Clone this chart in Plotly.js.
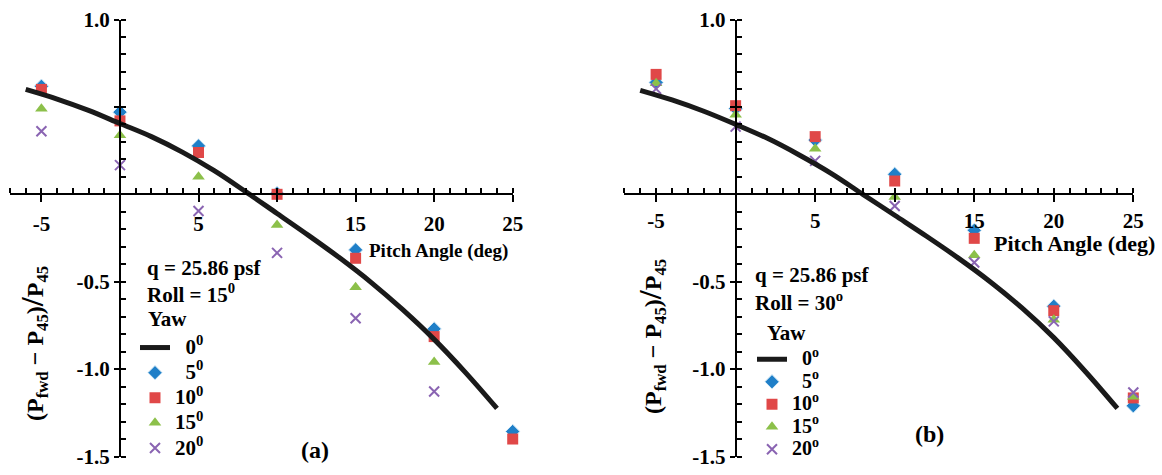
<!DOCTYPE html>
<html>
<head>
<meta charset="utf-8">
<script src="https://cdn.plot.ly/plotly-3.0.1.min.js"></script>
<style>html,body{margin:0;padding:0;background:#fff;}#chart{width:1162px;height:475px;}</style>
</head>
<body>
<div id="chart"></div>
<script>
// ---- data ----
const pitch = [-5, 0, 5, 10, 15, 20, 25];
const curveX = [-6, -4, -2, 0, 2, 4, 6, 8, 10, 12, 14, 16, 18, 20, 22, 24];

// (a) Roll = 15 deg
const a_yaw0 = [0.60, 0.545, 0.48, 0.405, 0.33, 0.24, 0.135, 0.015, -0.11, -0.235, -0.365, -0.505, -0.66, -0.83, -1.02, -1.225];
const a_yaw5 = [0.618, 0.47, 0.277, 0.005, -0.318, -0.77, -1.357];
const a_yaw10 = [0.60, 0.42, 0.239, 0.0, -0.366, -0.814, -1.40];
const a_yaw15 = [0.49, 0.338, 0.10, -0.176, -0.532, -0.96, -1.53];
const a_yaw20 = [0.361, 0.167, -0.096, -0.335, -0.709, -1.128, -1.57];

// (b) Roll = 30 deg
const b_yaw0 = [0.595, 0.54, 0.475, 0.40, 0.32, 0.225, 0.12, 0.0, -0.12, -0.24, -0.365, -0.50, -0.65, -0.82, -1.015, -1.225];
const b_yaw5 = [0.64, 0.49, 0.31, 0.115, -0.206, -0.64, -1.21];
const b_yaw10 = [0.686, 0.507, 0.33, 0.076, -0.252, -0.666, -1.165];
const b_yaw15 = [0.636, 0.455, 0.26, -0.016, -0.348, -0.717, -1.158];
const b_yaw20 = [0.603, 0.387, 0.191, -0.067, -0.39, -0.727, -1.134];

const xTickVals = [-5, 0, 5, 10, 15, 20, 25];
const xTickText = ['-5', '', '5', '', '15', '20', '25'];
const yTickVals = [1.0, 0.5, 0, -0.5, -1.0, -1.5];
const yTickText = ['1.0', '', '', '-0.5', '-1.0', '-1.5'];
const yawA = ['\u00a0\u00a00<sup>0</sup>', '\u00a0\u00a05<sup>0</sup>', '10<sup>0</sup>', '15<sup>0</sup>', '20<sup>0</sup>'];
const yawB = ['\u00a0\u00a00<sup>o</sup>', '\u00a0\u00a05<sup>o</sup>', '10<sup>o</sup>', '15<sup>o</sup>', '20<sup>o</sup>'];

// ---- styling / layout ----
const W = 1162, H = 475;
const FONT = 'Liberation Serif, Times New Roman, serif';
const px = v => v / W;
const py = v => 1 - v / H;
const xRange = [-7, 25], yRange = [-1.5, 1.0];
const xdA = [px(10), px(512.7)], xdB = [px(624.3), px(1133.3)];
const yd = [py(456.5), py(19.5)];
const yZeroPos = yd[0] + (0 - yRange[0]) / (yRange[1] - yRange[0]) * (yd[1] - yd[0]);
const xZeroPos = d => d[0] + (0 - xRange[0]) / (xRange[1] - xRange[0]) * (d[1] - d[0]);

const colors = {blue: '#1f7fc8', red: '#e04848', green: '#8cc04a', purple: '#8a64b2', line: '#1a1a1a'};
const big = (t, s) => '<span style="font-size:' + s + 'px">' + t + '</span>';

function makeTraces(curve, y5, y10, y15, y20, labels, xa, ya, leg, ls) {
  const common = {x: pitch, mode: 'markers', xaxis: xa, yaxis: ya, legend: leg, cliponaxis: false};
  return [
    Object.assign({}, common, {y: y5, name: big(labels[1], ls), marker: {symbol: 'diamond', size: 11, color: colors.blue, line: {color: '#d8ecf8', width: 1}}}),
    Object.assign({}, common, {y: y10, name: big(labels[2], ls), marker: {symbol: 'square', size: 11, color: colors.red}}),
    Object.assign({}, common, {y: y15, name: big(labels[3], ls), marker: {symbol: 'triangle-up', size: 11, color: colors.green}}),
    Object.assign({}, common, {y: y20, name: big(labels[4], ls), marker: {symbol: 'x-thin', size: 10, color: colors.purple, line: {color: colors.purple, width: 2}}}),
    {x: curveX, y: curve, mode: 'lines', name: big(labels[0], ls), xaxis: xa, yaxis: ya, legend: leg, legendrank: 1,
     line: {color: colors.line, width: 5, shape: 'spline', smoothing: 1}, cliponaxis: false}
  ];
}

const data = [].concat(
  makeTraces(a_yaw0, a_yaw5, a_yaw10, a_yaw15, a_yaw20, yawA, 'x', 'y', 'legend', 21),
  makeTraces(b_yaw0, b_yaw5, b_yaw10, b_yaw15, b_yaw20, yawB, 'x2', 'y2', 'legend2', 20)
);

const tickFont = {family: FONT, size: 21, weight: 'bold', color: '#000'};
function xAxis(dom, standoff) {
  return {domain: dom, range: xRange, anchor: 'free', position: yZeroPos,
    showline: true, linecolor: '#000', linewidth: 2, showgrid: false, zeroline: false,
    tickmode: 'array', tickvals: xTickVals, ticktext: xTickText,
    ticks: 'outside', ticklen: 7, tickwidth: 2, tickcolor: '#000', ticklabelstandoff: standoff,
    minor: {tickmode: 'linear', tick0: 0, dtick: 1, ticks: 'inside', ticklen: 5, tickwidth: 2, tickcolor: '#000', showgrid: false},
    tickfont: tickFont, fixedrange: true};
}
function yAxis(pos) {
  return {domain: yd, range: yRange, anchor: 'free', position: pos,
    showline: true, linecolor: '#000', linewidth: 2, showgrid: false, zeroline: false,
    tickmode: 'array', tickvals: yTickVals, ticktext: yTickText,
    ticks: 'outside', ticklen: 5, tickwidth: 2, tickcolor: '#000',
    minor: {tickmode: 'linear', tick0: 0, dtick: 0.1, ticks: 'inside', ticklen: 5, tickwidth: 2, tickcolor: '#000', showgrid: false},
    tickfont: tickFont, fixedrange: true};
}

const annFont = s => ({family: FONT, size: s, weight: 'bold', color: '#000'});
function ann(text, x, y, size, xanchor, extra) {
  return Object.assign({text: text, xref: 'paper', yref: 'paper', x: px(x), y: py(y), xanchor: xanchor || 'left', yanchor: 'middle',
    showarrow: false, font: annFont(size)}, extra || {});
}
const yTitle = '(P<sub>fwd</sub> \u2212 P<sub>45</sub>)<span style="font-size:32px">/</span>P<sub>45</sub>';

const layout = {
  width: W, height: H, margin: {l: 0, r: 0, t: 0, b: 0, autoexpand: false},
  paper_bgcolor: '#fff', plot_bgcolor: 'rgba(0,0,0,0)',
  showlegend: true,
  xaxis: xAxis(xdA, 3), yaxis: yAxis(xZeroPos(xdA)),
  xaxis2: xAxis(xdB, 0), yaxis2: yAxis(xZeroPos(xdB)),
  legend: {x: px(135), y: py(330), xanchor: 'left', yanchor: 'top', bgcolor: 'rgba(0,0,0,0)',
    font: annFont(17), tracegroupgap: 0, itemwidth: 30},
  legend2: {x: px(752), y: py(343), xanchor: 'left', yanchor: 'top', bgcolor: 'rgba(0,0,0,0)',
    font: annFont(15), tracegroupgap: 0, itemwidth: 30},
  annotations: [
    ann('q = 25.86 psf', 145, 268, 21),
    ann('Roll = 15<sup>0</sup>', 145, 293, 21),
    ann('Yaw', 146, 319, 21),
    ann('Pitch Angle (deg)', 438, 251, 19, 'center'),
    ann('(a)', 315, 450, 24, 'center'),
    ann(yTitle, 33, 344, 24, 'center', {textangle: -90}),
    ann('q = 25.86 psf', 753, 275, 21),
    ann('Roll = 30<sup>o</sup>', 753, 301, 21),
    ann('Yaw', 765, 333, 21),
    ann('Pitch Angle (deg)', 1074, 244, 22, 'center'),
    ann('(b)', 929, 434, 24, 'center'),
    ann(yTitle, 651, 337, 24, 'center', {textangle: -90})
  ]
};

Plotly.newPlot('chart', data, layout, {staticPlot: true, displayModeBar: false});
</script>
</body>
</html>
